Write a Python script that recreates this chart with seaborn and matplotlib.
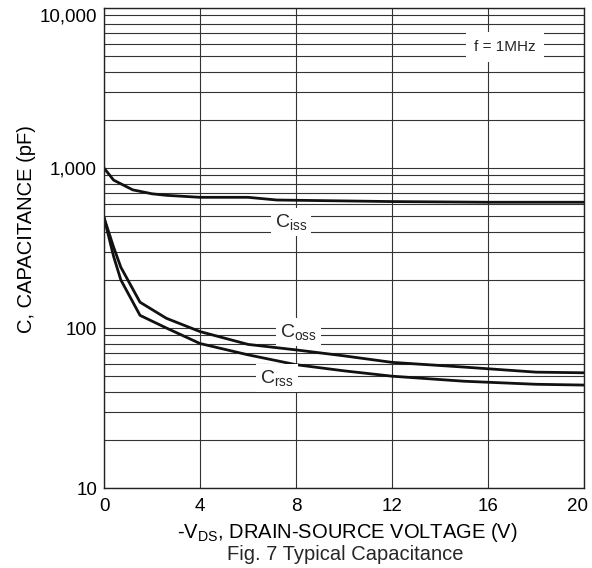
import pandas as pd
import matplotlib
matplotlib.use("Agg")
import matplotlib.pyplot as plt
import matplotlib.transforms as mtrans
import seaborn as sns
from matplotlib.ticker import FixedLocator, NullFormatter

# -------------------------------
# Data
# -------------------------------
ciss_v = [0, 0.4, 1.2, 1.6, 2.0, 2.6, 4, 6, 7.2, 12, 16, 20]
ciss_c = [1000, 840, 730, 710, 690, 675, 656, 656, 631, 617, 611, 611]

oss_v = [0, 0.4, 0.7, 1.5, 2.6, 4, 6, 8, 10, 12, 15, 18, 20]
coss_c = [490, 320, 240, 145, 115, 95, 79, 73, 67, 61, 57, 53, 52.5]
crss_c = [490, 280, 200, 120, 100, 80, 68, 59, 54, 50, 46.5, 44.5, 44]

x_ticks = [0, 4, 8, 12, 16, 20]
y_ticks = [10, 100, 1000, 10000]
y_tick_labels = ["10", "100", "1,000", "10,000"]

# -------------------------------
# Style
# -------------------------------
sns.set_theme(style="white")
plt.rcParams["font.family"] = ["Liberation Sans", "DejaVu Sans"]
plt.rcParams["mathtext.fontset"] = "custom"
plt.rcParams["mathtext.rm"] = "Liberation Sans"
plt.rcParams["mathtext.it"] = "Liberation Sans"

FS = 14.5
TICK_FS = 13.5

fig = plt.figure(figsize=(5.92, 5.68), dpi=100)
ax = fig.add_axes([0.1757, 0.1408, 0.8108, 0.8451])

# curves
sns.lineplot(x=ciss_v, y=ciss_c, ax=ax, color="#111111", lw=2.0)
sns.lineplot(x=oss_v, y=coss_c, ax=ax, color="#111111", lw=2.0)
sns.lineplot(x=oss_v, y=crss_c, ax=ax, color="#111111", lw=2.0)

ax.set_yscale("log")
ax.set_xlim(0, 20)
ax.set_ylim(10, 10000)

# grid: every 1..9 per decade, vertical every 4 V
minor = [m * 10 ** d for d in range(1, 4) for m in range(2, 10)]
ax.yaxis.set_major_locator(FixedLocator(y_ticks))
ax.yaxis.set_minor_locator(FixedLocator(minor))
ax.yaxis.set_minor_formatter(NullFormatter())
ax.set_yticklabels(y_tick_labels)
ax.set_xticks(x_ticks)
ax.grid(True, which="both", color="#333333", lw=0.8)
ax.set_axisbelow(True)
ax.tick_params(which="both", length=0, labelsize=TICK_FS, colors="black")
ax.tick_params(axis="y", pad=5)
ax.tick_params(axis="x", pad=7)

# nudge edge labels so they stay inside the figure
last_x = ax.get_xticklabels()[-1]
last_x.set_transform(last_x.get_transform() + mtrans.ScaledTranslation(-5 / 72, 0, fig.dpi_scale_trans))
ax.get_yticklabels()[-1].set_va("top")

for s in ax.spines.values():
    s.set_color("#222222")
    s.set_linewidth(1.0)

# labels on curves
box = dict(facecolor="white", edgecolor="none", pad=3)
ax.text(7.8, 460, r"C$_{\rm iss}$", ha="center", va="center", fontsize=14, bbox=box)
ax.text(8.1, 94, r"C$_{\rm oss}$", ha="center", va="center", fontsize=14, bbox=box)
ax.text(7.2, 48.5, r"C$_{\rm rss}$", ha="center", va="center", fontsize=14, bbox=box)
ax.text(16.7, 5700, "f = 1MHz", ha="center", va="center", fontsize=11,
        bbox=dict(facecolor="white", edgecolor="none", pad=6))

ax.set_xlabel(r"-V$_{\rm DS}$, DRAIN-SOURCE VOLTAGE (V)", fontsize=FS, color="black", va="center")
ax.xaxis.set_label_coords(0.507, -44 / 480)
ax.set_ylabel("C, CAPACITANCE (pF)", fontsize=FS, color="black", va="center")
ax.yaxis.set_label_coords(-78 / 480, 0.54)
fig.text(345 / 592, 1 - 554 / 568, "Fig. 7 Typical Capacitance", ha="center", va="center", fontsize=FS)

fig.savefig("out.png", dpi=100)
